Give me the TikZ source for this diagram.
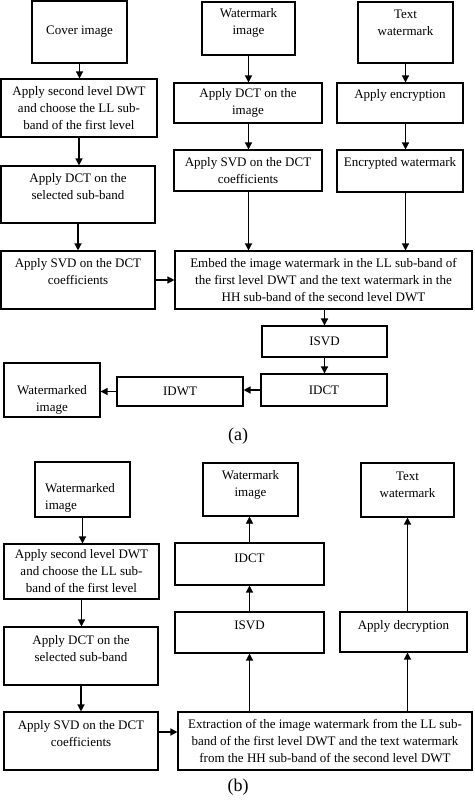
\documentclass[tikz,border=0pt]{standalone}
\usepackage{fontspec}
\setmainfont{Liberation Serif}
\usetikzlibrary{arrows.meta}

\begin{document}
\begin{tikzpicture}[x=1pt, y=-1pt,
  box/.style={draw, line width=1.1pt, inner sep=0pt, align=center, font=\fontsize{13}{17}\selectfont},
  txt/.style={inner sep=0pt, align=center, font=\fontsize{13}{17}\selectfont},
  arr/.style={line width=1.3pt, -{Triangle[length=7pt,width=7pt]}},
  captxt/.style={inner sep=0pt, font=\fontsize{18}{20}\selectfont}]
\useasboundingbox (0,0) rectangle (474,802);
% (a) embedding
\node[box, minimum width=95, minimum height=62] (covA) at (79.5,32) {Cover image};
\node[box, minimum width=156, minimum height=58] (dwtA) at (79,108) {Apply second level DWT\\and choose the LL sub-\\band of the first level};
\node[box, minimum width=154, minimum height=57] (dctA) at (78,194.5) {};
\node[txt] (dctAt) at (78,186.5) {Apply DCT on the\\selected sub-band};
\node[box, minimum width=154, minimum height=58] (svdA) at (78,280) {};
\node[txt] (svdAt) at (78,272) {Apply SVD on the DCT\\coefficients};
\node[box, minimum width=93, minimum height=53] (wmiA) at (248.5,28.5) {};
\node[txt] (wmiAt) at (248.5,23) {Watermark\\image};
\node[box, minimum width=148, minimum height=40] (dctW) at (248,103) {Apply DCT on the\\image};
\node[box, minimum width=148, minimum height=41] (svdW) at (248,170.5) {Apply SVD on the DCT\\coefficients};
\node[box, minimum width=95, minimum height=61] (txtA) at (405.5,32.5) {};
\node[txt] (txtAt) at (405.5,23) {Text\\watermark};
\node[box, minimum width=126, minimum height=40] (enc) at (400,103) {};
\node[txt] (enct) at (400,95) {Apply encryption};
\node[box, minimum width=126, minimum height=42] (encw) at (400,171) {};
\node[txt] (encwt) at (400,163) {Encrypted watermark};
\node[box, minimum width=297, minimum height=58] (emb) at (323.5,280) {Embed the image watermark in the LL sub-band of\\the first level DWT and the text watermark in the\\HH sub-band of the second level DWT};
\node[box, minimum width=125, minimum height=31] (isvdA) at (324.5,341.5) {ISVD};
\node[box, minimum width=126, minimum height=32] (idctA) at (324,390) {IDCT};
\node[box, minimum width=126, minimum height=29] (idwt) at (180,391.5) {IDWT};
\node[box, minimum width=96, minimum height=54] (wmdA) at (52,390) {};
\node[txt] (wmdAt) at (52,399.5) {Watermarked\\image};
\node[captxt] (capA) at (238,436) {(a)};
\draw[arr] (covA.south) -- (covA.south |- dwtA.north);
\draw[arr] (dwtA.south) -- (dwtA.south |- dctA.north);
\draw[arr] (dctA.south) -- (dctA.south |- svdA.north);
\draw[arr] (svdA.east) -- (svdA.east -| emb.west);
\draw[arr] (wmiA.south) -- (wmiA.south |- dctW.north);
\draw[arr] (wmiA.south |- dctW.south) -- (wmiA.south |- svdW.north);
\draw[arr] (wmiA.south |- svdW.south) -- (wmiA.south |- emb.north);
\draw[arr] (txtA.south) -- (txtA.south |- enc.north);
\draw[arr] (txtA.south |- enc.south) -- (txtA.south |- encw.north);
\draw[arr] (txtA.south |- encw.south) -- (txtA.south |- emb.north);
\draw[arr] (isvdA.north |- emb.south) -- (isvdA.north);
\draw[arr] (isvdA.south) -- (isvdA.south |- idctA.north);
\draw[arr] (idctA.west) -- (idctA.west -| idwt.east);
\draw[arr] (idwt.west) -- (idwt.west -| wmdA.east);
% (b) extraction
\node[box, minimum width=95, minimum height=55] (wmdB) at (82.5,489.5) {};
\node[txt, anchor=west, align=left] (wmdBt) at (45,497.5) {Watermarked\\image};
\node[box, minimum width=155, minimum height=55] (dwtB) at (81.5,571.5) {Apply second level DWT\\and choose the LL sub-\\band of the first level};
\node[box, minimum width=154, minimum height=58] (dctB) at (81,656) {};
\node[txt] (dctBt) at (81,648.5) {Apply DCT on the\\selected sub-band};
\node[box, minimum width=154, minimum height=58] (svdB) at (81,741) {};
\node[txt] (svdBt) at (81,733.5) {Apply SVD on the DCT\\coefficients};
\node[box, minimum width=294, minimum height=58] (ext) at (325,741) {Extraction of the image watermark from the LL sub-\\band of the first level DWT and the text watermark\\from the HH sub-band of the second level DWT};
\node[box, minimum width=95, minimum height=53] (wmiB) at (250.5,489.5) {};
\node[txt] (wmiBt) at (250.5,485) {Watermark\\image};
\node[box, minimum width=149, minimum height=42] (idctB) at (249.5,564) {};
\node[txt] (idctBt) at (249.5,558) {IDCT};
\node[box, minimum width=149, minimum height=41] (isvdB) at (249.5,632.5) {};
\node[txt] (isvdBt) at (249.5,625) {ISVD};
\node[box, minimum width=93, minimum height=54] (txtB) at (407.5,490) {};
\node[txt] (txtBt) at (407.5,484.5) {Text\\watermark};
\node[box, minimum width=127, minimum height=40] (dec) at (403.5,632) {};
\node[txt] (dect) at (403.5,626) {Apply decryption};
\node[captxt] (capB) at (238,787) {(b)};
\coordinate (s2) at ([yshift=9pt]svdB.east);
\draw[arr] (wmdB.south) -- (wmdB.south |- dwtB.north);
\draw[arr] (dwtB.south) -- (dwtB.south |- dctB.north);
\draw[arr] (dctB.south) -- (dctB.south |- svdB.north);
\draw[arr] (s2) -- (s2 -| ext.west);
\draw[arr] (isvdB.south |- ext.north) -- (isvdB.south);
\draw[arr] (isvdB.north) -- (isvdB.north |- idctB.south);
\draw[arr, line width=0.6pt] (idctB.north) -- (idctB.north |- wmiB.south);
\draw[arr] (txtB.south |- ext.north) -- (txtB.south |- dec.south);
\draw[arr] (txtB.south |- dec.north) -- (txtB.south);
\end{tikzpicture}
\end{document}
